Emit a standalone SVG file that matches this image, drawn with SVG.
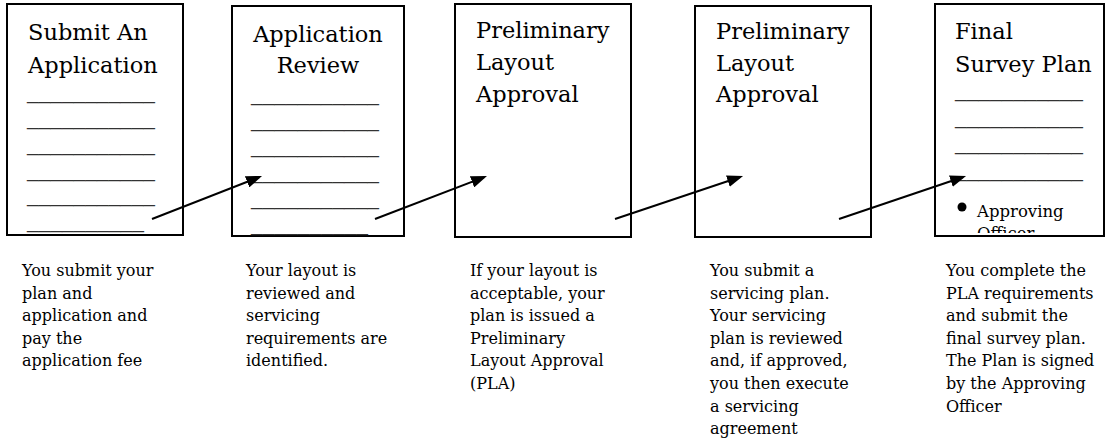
<svg xmlns="http://www.w3.org/2000/svg" width="1106" height="441" viewBox="0 0 1106 441">
<style>
.box{fill:#fff;stroke:#000;stroke-width:2}
.title{font-family:"DejaVu Serif","Liberation Serif",serif;font-size:22.5px;fill:#000}
.body{font-family:"DejaVu Serif","Liberation Serif",serif;font-size:16px;fill:#000}
.rule{font-family:"Liberation Serif",serif;font-size:20px;fill:#333}
.conn{stroke:#000;stroke-width:2;fill:none;marker-end:url(#ah)}
</style>
<defs>
<marker id="ah" markerUnits="userSpaceOnUse" markerWidth="16" markerHeight="12" refX="13" refY="6" orient="auto">
<path d="M0,0 L16,6 L0,12 z" fill="#000"/>
</marker>
<clipPath id="c5"><rect x="936" y="5" width="167" height="228"/></clipPath>
</defs>
<rect width="1106" height="441" fill="#fff"/>

<g id="node1">
<rect class="box" x="7" y="4" width="176" height="231"/>
<text class="title" x="28" y="40">Submit An</text>
<text class="title" x="28" y="72.5">Application</text>
<text class="rule" x="27" y="100" textLength="128" lengthAdjust="spacingAndGlyphs">___________</text>
<text class="rule" x="27" y="126" textLength="128" lengthAdjust="spacingAndGlyphs">___________</text>
<text class="rule" x="27" y="152" textLength="128" lengthAdjust="spacingAndGlyphs">___________</text>
<text class="rule" x="27" y="178" textLength="128" lengthAdjust="spacingAndGlyphs">___________</text>
<text class="rule" x="27" y="203" textLength="128" lengthAdjust="spacingAndGlyphs">___________</text>
<text class="rule" x="27" y="229" textLength="117" lengthAdjust="spacingAndGlyphs">__________</text>
<text class="body" x="22" y="276"><tspan x="22">You submit your</tspan><tspan x="22" dy="22.6">plan and</tspan><tspan x="22" dy="22.6">application and</tspan><tspan x="22" dy="22.6">pay the</tspan><tspan x="22" dy="22.6">application fee</tspan></text>
</g>

<g id="node2">
<rect class="box" x="232" y="6" width="172" height="230"/>
<text class="title" x="318" y="41.5" text-anchor="middle">Application</text>
<text class="title" x="318" y="73" text-anchor="middle">Review</text>
<text class="rule" x="251" y="102" textLength="128" lengthAdjust="spacingAndGlyphs">___________</text>
<text class="rule" x="251" y="128" textLength="128" lengthAdjust="spacingAndGlyphs">___________</text>
<text class="rule" x="251" y="154" textLength="128" lengthAdjust="spacingAndGlyphs">___________</text>
<text class="rule" x="251" y="180" textLength="128" lengthAdjust="spacingAndGlyphs">___________</text>
<text class="rule" x="251" y="206" textLength="128" lengthAdjust="spacingAndGlyphs">___________</text>
<text class="rule" x="251" y="232" textLength="117" lengthAdjust="spacingAndGlyphs">__________</text>
<text class="body" x="246" y="276"><tspan x="246">Your layout is</tspan><tspan x="246" dy="22.6">reviewed and</tspan><tspan x="246" dy="22.6">servicing</tspan><tspan x="246" dy="22.6">requirements are</tspan><tspan x="246" dy="22.6">identified.</tspan></text>
</g>

<g id="node3">
<rect class="box" x="455" y="4" width="176" height="233"/>
<text class="title" x="476" y="37.5">Preliminary</text>
<text class="title" x="476" y="70">Layout</text>
<text class="title" x="476" y="101.5">Approval</text>
<text class="body" x="470" y="276"><tspan x="470">If your layout is</tspan><tspan x="470" dy="22.6">acceptable, your</tspan><tspan x="470" dy="22.6">plan is issued a</tspan><tspan x="470" dy="22.6">Preliminary</tspan><tspan x="470" dy="22.6">Layout Approval</tspan><tspan x="470" dy="22.6">(PLA)</tspan></text>
</g>

<g id="node4">
<rect class="box" x="695" y="6" width="176" height="231"/>
<text class="title" x="716" y="38.5">Preliminary</text>
<text class="title" x="716" y="70.5">Layout</text>
<text class="title" x="716" y="101.5">Approval</text>
<text class="body" x="710" y="276"><tspan x="710">You submit a</tspan><tspan x="710" dy="22.6">servicing plan.</tspan><tspan x="710" dy="22.6">Your servicing</tspan><tspan x="710" dy="22.6">plan is reviewed</tspan><tspan x="710" dy="22.6">and, if approved,</tspan><tspan x="710" dy="22.6">you then execute</tspan><tspan x="710" dy="22.6">a servicing</tspan><tspan x="710" dy="22.6">agreement</tspan></text>
</g>

<g id="node5">
<rect class="box" x="935" y="4" width="169" height="232"/>
<text class="title" x="955" y="38.5">Final</text>
<text class="title" x="955" y="71.5">Survey Plan</text>
<text class="rule" x="955" y="98" textLength="128" lengthAdjust="spacingAndGlyphs">___________</text>
<text class="rule" x="955" y="125" textLength="128" lengthAdjust="spacingAndGlyphs">___________</text>
<text class="rule" x="955" y="151" textLength="128" lengthAdjust="spacingAndGlyphs">___________</text>
<text class="rule" x="955" y="178" textLength="128" lengthAdjust="spacingAndGlyphs">___________</text>
<g clip-path="url(#c5)">
<circle cx="962" cy="207" r="4.5" fill="#000"/>
<text class="body" x="977" y="217" style="font-size:16.5px"><tspan x="977">Approving</tspan><tspan x="977" dy="22">Officer</tspan></text>
</g>
<text class="body" x="946" y="276"><tspan x="946">You complete the</tspan><tspan x="946" dy="22.6">PLA requirements</tspan><tspan x="946" dy="22.6">and submit the</tspan><tspan x="946" dy="22.6">final survey plan.</tspan><tspan x="946" dy="22.6">The Plan is signed</tspan><tspan x="946" dy="22.6">by the Approving</tspan><tspan x="946" dy="22.6">Officer</tspan></text>
</g>

<g id="connectors">
<line class="conn" x1="152" y1="219" x2="259.2" y2="177.1"/>
<line class="conn" x1="375" y1="219" x2="484.2" y2="177.1"/>
<line class="conn" x1="615" y1="219" x2="740.2" y2="177"/>
<line class="conn" x1="839" y1="219" x2="963.2" y2="177"/>
</g>
</svg>
